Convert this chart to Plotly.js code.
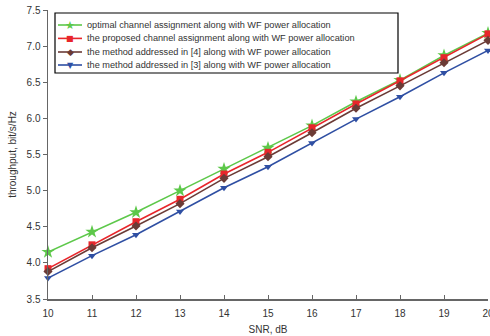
<!DOCTYPE html>
<html><head><meta charset="utf-8">
<script src="https://cdn.plot.ly/plotly-3.0.1.min.js"></script>
<style>html,body{margin:0;padding:0;background:#fff}#chart{width:490px;height:336px}</style>
</head><body><div id="chart"></div>
<script>
const snr = [10, 11, 12, 13, 14, 15, 16, 17, 18, 19, 20];
const optimal = [4.15, 4.43, 4.70, 5.00, 5.30, 5.59, 5.90, 6.23, 6.53, 6.87, 7.18];
const proposed = [3.92, 4.25, 4.57, 4.88, 5.23, 5.53, 5.87, 6.20, 6.52, 6.84, 7.17];
const method4 = [3.88, 4.21, 4.51, 4.82, 5.17, 5.47, 5.80, 6.14, 6.45, 6.77, 7.08];
const method3 = [3.79, 4.10, 4.39, 4.71, 5.04, 5.33, 5.66, 5.99, 6.30, 6.63, 6.94];
const names = [
  "optimal channel assignment along with WF power allocation",
  "the proposed channel assignment along with WF power allocation",
  "the method addressed in [4] along with WF power allocation",
  "the method addressed in [3] along with WF power allocation"
];
const yTicks = [3.5, 4.0, 4.5, 5.0, 5.5, 6.0, 6.5, 7.0, 7.5];

const series = [optimal, proposed, method4, method3];
const colors = ["#5dc84a", "#e8262b", "#6b3b36", "#2f4fa3"];
const symbols = ["star", "square", "diamond", "triangle-down"];
const sizes = [10, 7, 7, 7];
const glyphs = ["\u2605", "\u25A0", "\u25C6", "\u25BC"];
const glyphSizes = [11, 8, 9, 8];

const traces = series.map((ys, i) => ({
  x: snr, y: ys, name: names[i], type: "scatter", mode: "lines+markers",
  line: {color: colors[i], width: 1.6},
  marker: {symbol: symbols[i], size: sizes[i], color: colors[i]},
  cliponaxis: false, showlegend: false
}));

// plot area in pixels: left 48, right 488, top 10, bottom 299
const L = 48, R = 488, T = 10, B = 299;
const px2x = p => (p - L) / (R - L);
const px2y = p => (B - p) / (B - T);

const shapes = [{
  type: "rect", xref: "paper", yref: "paper",
  x0: px2x(55), x1: px2x(398), y0: px2y(73), y1: px2y(13),
  line: {color: "#000", width: 1.2}, fillcolor: "#fff", layer: "above"
}];
const annotations = [];
const rowY = [25, 38.4, 52, 65];
names.forEach((n, i) => {
  shapes.push({
    type: "line", xref: "paper", yref: "paper",
    x0: px2x(58), x1: px2x(82), y0: px2y(rowY[i]), y1: px2y(rowY[i]),
    line: {color: colors[i], width: 1.6}, layer: "above"
  });
  annotations.push({
    xref: "paper", yref: "paper", x: px2x(70), y: px2y(rowY[i]),
    xanchor: "center", yanchor: "middle", showarrow: false,
    text: glyphs[i], font: {size: glyphSizes[i], color: colors[i], family: "DejaVu Sans"}
  });
  annotations.push({
    xref: "paper", yref: "paper", x: px2x(85), y: px2y(rowY[i]),
    xanchor: "left", yanchor: "middle", showarrow: false,
    text: n, font: {size: 9.2, color: "#333"}
  });
});

const layout = {
  width: 490, height: 336,
  margin: {l: L, r: 490 - R, t: T, b: 336 - B},
  paper_bgcolor: "#fff", plot_bgcolor: "#fff",
  font: {family: "Liberation Sans, Arial, sans-serif", size: 10, color: "#333"},
  showlegend: false,
  shapes: shapes,
  annotations: annotations,
  xaxis: {
    range: [10, 20], tickvals: snr, ticktext: snr.map(String),
    showgrid: false, zeroline: false, showline: true, linecolor: "#666", linewidth: 1.5,
    ticks: "inside", ticklen: 4, tickcolor: "#666",
    ticklabeloverflow: "allow", ticklabelstandoff: 4,
    title: {text: "SNR, dB", font: {size: 10, color: "#333"}, standoff: 8}
  },
  yaxis: {
    range: [3.5, 7.5], tickvals: yTicks, tickformat: ".1f",
    showgrid: false, zeroline: false, showline: true, linecolor: "#666", linewidth: 1.5,
    ticks: "outside", ticklen: 4, tickcolor: "#666",
    title: {text: "throughput, bit/s/Hz", font: {size: 10, color: "#333"}, standoff: 8}
  }
};

Plotly.newPlot("chart", traces, layout, {displayModeBar: false, staticPlot: true});
</script></body></html>
